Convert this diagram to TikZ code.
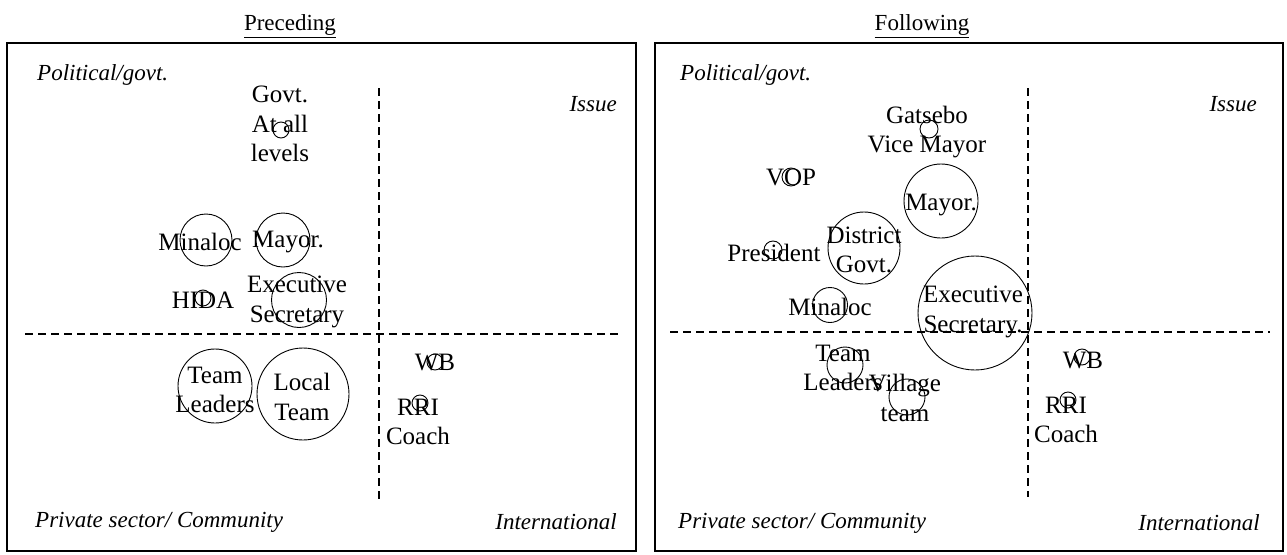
\documentclass[tikz,border=0pt]{standalone}
\usepackage{fontspec}
\setmainfont{Liberation Serif}
\begin{document}
\begin{tikzpicture}[x=1pt,y=-1pt,
  every node/.style={font=\fontsize{25}{29.5}\selectfont, inner sep=0pt},
  head/.style={font=\fontsize{23}{28}\selectfont},
  panel/.style={draw, line width=2pt},
  axis/.style={line width=1.7pt, dash pattern=on 8pt off 5pt},
  bub/.style={circle, draw, line width=0.9pt, inner sep=0pt},
  lbl/.style={font=\fontsize{23}{28}\selectfont\itshape},
  txt/.style={align=center}]
\useasboundingbox (0,0) rectangle (1287,554);
% ---------------- left panel ----------------
\draw[panel] (7,43) rectangle (636,551);
\node[head] (hL) at (290,26) {\underline{Preceding}};
\node[lbl, anchor=west] (polL) at (37,75) {Political/govt.};
\node[lbl, anchor=east] (issL) at (617,104) {Issue};
\node[lbl, anchor=west] (priL) at (35,522) {Private sector/ Community};
\node[lbl, anchor=east] (intL) at (617,522) {International};
\coordinate (vLt) at (379,88); \coordinate (vLb) at (379,500);
\coordinate (hLl) at (25,334); \coordinate (hLr) at (620,334);
\draw[axis] (vLt) -- (vLb);
\draw[axis] (hLl) -- (hLr);
\node[bub, minimum size=16pt] (cGov) at (281,130) {};
\node[txt] (tGov) at (280,124) {Govt.\\At all\\levels};
\node[bub, minimum size=52pt] (cMinL) at (206,240) {};
\node (tMinL) at (200,242) {Minaloc};
\node[bub, minimum size=54pt] (cMayL) at (283,240) {};
\node (tMayL) at (288,242) {Mayor.};
\node[bub, minimum size=16pt] (cHida) at (203,298) {};
\node (tHida) at (203,300) {HIDA};
\node[bub, minimum size=55pt] (cExL) at (299,300) {};
\node[txt] (tExL) at (297,302) {Executive\\Secretary};
\node[bub, minimum size=74pt] (cTLL) at (215,386) {};
\node[txt] (tTLL) at (215,390) {Team\\Leaders};
\node[bub, minimum size=92pt] (cLT) at (303,394) {};
\node[txt] (tLT) at (302,397) {Local\\Team};
\node[bub, minimum size=16pt] (cWBL) at (435,362) {};
\node (tWBL) at (435,362) {WB};
\node[bub, minimum size=16pt] (cRRIL) at (420,403) {};
\node[txt] (tRRIL) at (418,422) {RRI\\Coach};
% ---------------- right panel ----------------
\draw[panel] (655,43) rectangle (1283,551);
\node[head] (hR) at (922,26) {\underline{Following}};
\node[lbl, anchor=west] (polR) at (680,75) {Political/govt.};
\node[lbl, anchor=east] (issR) at (1257,104) {Issue};
\node[lbl, anchor=west] (priR) at (678,523) {Private sector/ Community};
\node[lbl, anchor=east] (intR) at (1260,523) {International};
\coordinate (vRt) at (1028,88); \coordinate (vRb) at (1028,497);
\coordinate (hRl) at (670,332); \coordinate (hRr) at (1270,332);
\draw[axis] (vRt) -- (vRb);
\draw[axis] (hRl) -- (hRr);
\node[bub, minimum size=18pt] (cGat) at (929,129) {};
\node[txt] (tGat) at (927,132) {Gatsebo\\Vice Mayor};
\node[bub, minimum size=18pt] (cVOP) at (791,177) {};
\node (tVOP) at (791,177) {VOP};
\node[bub, minimum size=74pt] (cMayR) at (941,201) {};
\node (tMayR) at (941,205) {Mayor.};
\node[bub, minimum size=72pt] (cDG) at (864,248) {};
\node[txt] (tDG) at (864,250) {District\\Govt.};
\node[bub, minimum size=18pt] (cPres) at (773,250) {};
\node (tPres) at (774,253) {President};
\node[bub, minimum size=35pt] (cMinR) at (830,305) {};
\node (tMinR) at (830,307) {Minaloc};
\node[bub, minimum size=114pt] (cExR) at (975,313) {};
\node[txt] (tExR) at (973,312) {Executive\\Secretary.};
\node[bub, minimum size=36pt] (cTLR) at (845,365) {};
\node[txt] (tTLR) at (843,368) {Team\\Leaders};
\node[bub, minimum size=36pt] (cVil) at (907,397) {};
\node[txt] (tVil) at (905,398) {Village\\team};
\node[bub, minimum size=16pt] (cWBR) at (1082,357) {};
\node (tWBR) at (1083,360) {WB};
\node[bub, minimum size=16pt] (cRRIR) at (1068,400) {};
\node[txt] (tRRIR) at (1066,420) {RRI\\Coach};
\end{tikzpicture}
\end{document}
